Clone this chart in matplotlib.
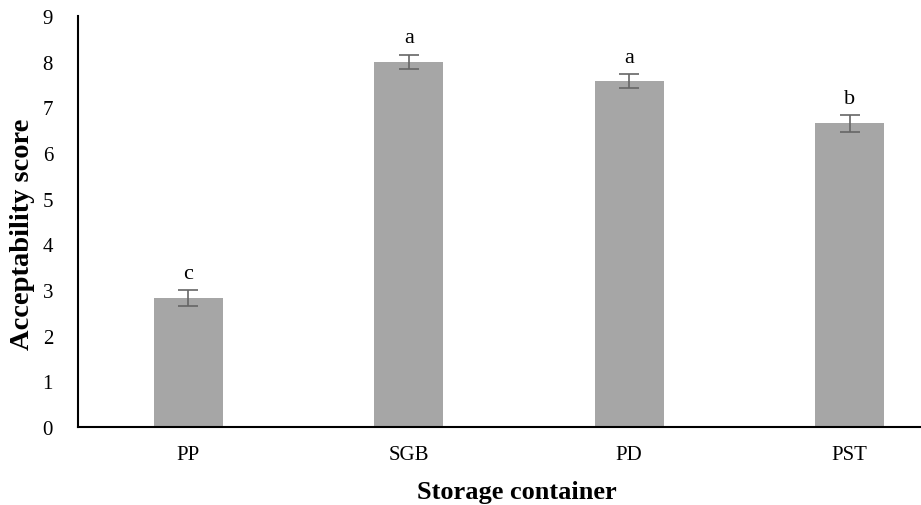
import matplotlib.pyplot as plt

containers = ["PP", "SGB", "PD", "PST"]
scores = [2.83, 8.0, 7.57, 6.65]
errors = [0.17, 0.15, 0.15, 0.18]
letters = ["c", "a", "a", "b"]

plt.rcParams["font.family"] = ["Liberation Serif", "DejaVu Serif"]

fig = plt.figure(figsize=(9.21, 5.06), dpi=100)
ax = fig.add_axes([78 / 921, 78 / 506, 843 / 921, 411 / 506])

x = range(len(containers))
ax.bar(x, scores, width=0.313, color="#a6a6a6", zorder=2)
ax.errorbar(x, scores, yerr=errors, fmt="none", ecolor="#666666",
            elinewidth=1.2, capsize=7, capthick=1.2, zorder=3)

# significance letters above each error bar
for i, (s, e, lab) in enumerate(zip(scores, errors, letters)):
    ax.text(i, s + e + 0.27, lab, ha="center", va="baseline", fontsize=16)

ax.set_xlim(-0.5, -0.5 + 843 / 220.5)
ax.set_ylim(0, 9)
ax.set_yticks(range(10))
ax.set_xticks(list(x))
ax.set_xticklabels(containers)
ax.tick_params(axis="both", length=0, labelsize=15)
ax.tick_params(axis="y", pad=18)
ax.tick_params(axis="x", pad=13)

for side in ["top", "right"]:
    ax.spines[side].set_visible(False)
for side in ["left", "bottom"]:
    ax.spines[side].set_linewidth(1.5)
    ax.spines[side].set_color("black")

ax.set_xlabel("Storage container", fontsize=19, fontweight="bold")
ax.xaxis.set_label_coords((517 - 78) / 843, -(481 - 428) / 411)
ax.set_ylabel("Acceptability score", fontsize=20.5, fontweight="bold")
ax.yaxis.set_label_coords(-(78 - 35) / 843, (428 - 234) / 411)

fig.savefig("out.png", dpi=100)
